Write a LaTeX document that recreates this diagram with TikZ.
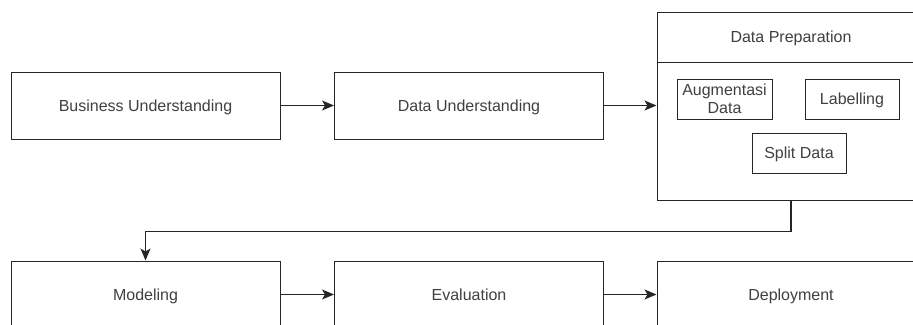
\documentclass[tikz,border=0pt]{standalone}
\usepackage{fontspec}
\setmainfont{Liberation Sans}
\usetikzlibrary{arrows.meta}
\begin{document}
\begin{tikzpicture}[x=1pt,y=-1pt,
  box/.style={draw=black!85, line width=1pt, fill=white, text=black!75,
    font=\fontsize{16}{18}\selectfont, align=center, inner sep=0pt,
    text height=12.5pt, text depth=1pt},
  big/.style={box, minimum width=269pt, minimum height=67pt},
  small/.style={box, minimum width=94pt, minimum height=40pt},
  arr/.style={-{Stealth[length=12pt,width=10pt,inset=3pt]}, line width=1.3pt, draw=black!85}]
\useasboundingbox (0,0) rectangle (913,324);
\clip (0,0) rectangle (913,324);
% top row
\node[big] (bu) at (145.5,105.5) {Business Understanding};
\node[big] (du) at (469,105.5) {Data Understanding};
% data preparation container
\node[box, minimum width=268pt, minimum height=188pt] (dp) at (791,106) {};
\node[box, minimum width=268pt, minimum height=50pt, anchor=north] (dph) at (dp.north) {Data Preparation};
\node[small, minimum width=95pt, text height=, text depth=] (aug) at (724.5,99) {Augmentasi\\Data};
\node[small] (lab) at (852,99) {Labelling};
\node[small] (spl) at (799,153) {Split Data};
% bottom row
\node[big] (mod) at (145.5,294.5) {Modeling};
\node[big] (eva) at (469,294.5) {Evaluation};
\node[big, minimum width=268pt] (dep) at (791,294.5) {Deployment};
% connectors
\draw[arr] (bu) -- (du);
\draw[arr] (du) -- (dp.west |- du.east);
\draw[arr] (dp.south) -- ++(0,31) -| (mod.north);
\draw[arr] (mod) -- (eva);
\draw[arr] (eva) -- (dep);
\end{tikzpicture}
\end{document}
